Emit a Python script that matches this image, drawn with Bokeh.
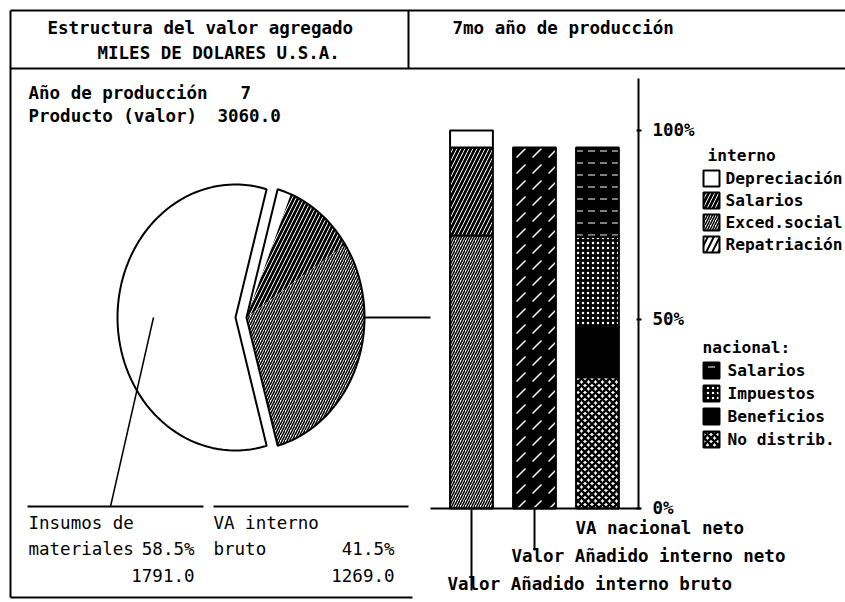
import numpy as np
from bokeh.plotting import figure
from bokeh.models import Range1d
from bokeh.core.properties import value
from bokeh.embed import file_html
from bokeh.resources import INLINE

# ---------------- data ----------------
title_lines = ["Estructura del valor agregado", "MILES DE DOLARES U.S.A."]
right_title = "7mo año de producción"
year = 7
product_value = 3060.0

pie_labels = ["Insumos de materiales", "VA interno bruto"]
pie_pct = [58.5, 41.5]
pie_values = [1791.0, 1269.0]

bar_names = ["Valor Añadido interno bruto", "Valor Añadido interno neto", "VA nacional neto"]
bruto_labels = ["Exced.social", "Salarios", "Depreciación"]      # bottom -> top
bruto_pct = [72.2, 23.3, 4.5]
neto_labels = ["Neto"]
neto_pct = [95.5]
nacional_labels = ["No distrib.", "Beneficios", "Impuestos", "Salarios"]  # bottom -> top
nacional_pct = [34.7, 13.2, 24.0, 23.6]

axis_ticks = [0, 50, 100]
axis_tick_labels = ["0%", "50%", "100%"]

legend_int_title = "interno"
legend_int = ["Depreciación", "Salarios", "Exced.social", "Repatriación"]
legend_nac_title = "nacional:"
legend_nac = ["Salarios", "Impuestos", "Beneficios", "No distrib."]

# ---------------- styles ----------------
STY = {
    "Depreciación": dict(fill_color="white"),
    "Salarios_i": dict(fill_color="black", hatch_pattern="/", hatch_color="white", hatch_scale=8, hatch_weight=1),
    "Exced.social": dict(fill_color="white", hatch_pattern="/", hatch_color="black", hatch_scale=5, hatch_weight=1.5),
    "Repatriación": dict(fill_color="white", hatch_pattern="/", hatch_color="black", hatch_scale=12, hatch_weight=2),
    "Neto": dict(fill_color="black", hatch_pattern=",", hatch_color="white", hatch_scale=16, hatch_weight=1.5),
    "Salarios_n": dict(fill_color="black", hatch_pattern='"', hatch_color="white", hatch_scale=12, hatch_weight=1),
    "Impuestos": dict(fill_color="black", hatch_pattern=".", hatch_color="white", hatch_scale=5),
    "Beneficios": dict(fill_color="black"),
    "No distrib.": dict(fill_color="white", hatch_pattern="x", hatch_color="black", hatch_scale=7, hatch_weight=2.5),
}

W, H = 845, 602
p = figure(width=W, height=H, x_range=Range1d(0, W), y_range=Range1d(H, 0),
           output_backend="svg", toolbar_location=None, min_border=0,
           x_axis_location=None, y_axis_location=None, outline_line_color=None)
p.grid.visible = False
p.background_fill_color = "white"
p.extra_y_ranges = {"pct": Range1d(-24.868, 134.391)}
p.extra_x_ranges = {"bars": Range1d(-7.476, 5.937)}

FONT = "DejaVu Sans Mono"
FS = 17.5
FS_LEG = 16.2


def txt(x, y, s, size=FS, bold=True, align="left", **kw):
    p.text(x=[x], y=[y], text=[s], text_font=value(FONT), text_font_size=f"{size}px",
           text_font_style="bold" if bold else "normal", text_align=align,
           text_baseline="middle", text_color="black", **kw)


def seg(x0, y0, x1, y1, w=2):
    p.segment(x0=[x0], y0=[y0], x1=[x1], y1=[y1], line_color="black", line_width=w)


# ---------------- frame ----------------
seg(10, 10, 845, 10, 2)
seg(10, 68, 845, 68, 2)
seg(10, 10, 10, 597, 2)
seg(10, 597, 412, 597, 2)
seg(408, 10, 408, 68, 2)

txt(47, 27, title_lines[0])
txt(97, 52, title_lines[1])
txt(452, 27, right_title)

txt(28, 92, "Año de producción")
txt(240, 92, f"{year}")
txt(28, 115, "Producto (valor)")
txt(217, 115, f"{product_value:.1f}")

# ---------------- pie (elliptical, exploded) ----------------
rx, ry, cy = 118, 133, 317
half = pie_pct[1] / 100 * 360 / 2
big_c, small_c = 235, 246


def wedge_pts(cx, a0, a1, n=80):
    t = np.radians(np.linspace(a0, a1, n))
    xs = np.concatenate([[cx], cx + rx * np.cos(t), [cx]])
    ys = np.concatenate([[cy], cy - ry * np.sin(t), [cy]])
    return xs, ys


xs, ys = wedge_pts(big_c, half, 360 - half)
p.patch(xs, ys, fill_color="white", line_color="black", line_width=2)

# sub-slices of VA interno bruto, from the top edge clockwise
span = 2 * half
a = half
sub = list(zip(bruto_labels, bruto_pct))[::-1]  # Depreciación, Salarios, Exced
for lab, v in sub:
    a_next = a - v / 100 * span
    xs, ys = wedge_pts(small_c, a_next, a)
    key = "Salarios_i" if lab == "Salarios" else lab
    p.patch(xs, ys, line_color=None, **STY[key])
    a = a_next
xs, ys = wedge_pts(small_c, -half, half)
p.patch(xs, ys, fill_color=None, line_color="black", line_width=2)

# leaders
seg(small_c + rx, cy, 430, cy, 2)
seg(153, 317, 110, 506, 1.5)
seg(27, 506, 203, 506, 2)
seg(213, 506, 408, 506, 2)

txt(28, 522, "Insumos de", bold=False)
txt(28, 548, "materiales", bold=False)
txt(194, 548, f"{pie_pct[0]}%", bold=False, align="right")
txt(194, 575, f"{pie_values[0]:.1f}", bold=False, align="right")
txt(213, 522, "VA interno", bold=False)
txt(213, 548, "bruto", bold=False)
txt(394, 548, f"{pie_pct[1]}%", bold=False, align="right")
txt(394, 575, f"{pie_values[1]:.1f}", bold=False, align="right")

# ---------------- stacked bars ----------------
stacks = [
    (bruto_labels, bruto_pct, ["Exced.social", "Salarios_i", "Depreciación"]),
    (neto_labels, neto_pct, ["Neto"]),
    (nacional_labels, nacional_pct, ["No distrib.", "Beneficios", "Impuestos", "Salarios_n"]),
]
for i, (labs, vals, keys) in enumerate(stacks):
    tops = np.cumsum(vals)
    bots = tops - np.array(vals)
    for b, t, k in zip(bots, tops, keys):
        p.vbar(x=[i], bottom=[b], top=[t], width=0.68, x_range_name="bars", y_range_name="pct",
               line_color="black", line_width=2, **STY[k])

# axis
seg(638, 78, 638, 508, 2)
seg(430, 508, 640, 508, 2)
p.segment(x0=[636] * 3, x1=[641] * 3, y0=axis_ticks, y1=axis_ticks, y_range_name="pct",
          line_color="black", line_width=2)
p.text(x=[652] * 3, y=axis_ticks, text=axis_tick_labels, y_range_name="pct",
       text_font=value(FONT), text_font_size=f"{FS}px", text_font_style="bold",
       text_baseline="middle", text_color="black")

# bar leaders and labels
seg(471, 508, 471, 590, 2)
seg(534, 508, 534, 550, 2)
txt(575, 527, bar_names[2])
txt(511, 555, bar_names[1])
txt(447, 583, bar_names[0])

# ---------------- legends ----------------
txt(707, 155, legend_int_title, FS_LEG)
int_keys = ["Depreciación", "Salarios_i", "Exced.social", "Repatriación"]
for j, (lab, k) in enumerate(zip(legend_int, int_keys)):
    yy = 178 + j * 22
    p.rect(x=[711], y=[yy], width=16, height=16, line_color="black", line_width=2, **STY[k])
    txt(725, yy, lab, FS_LEG)

txt(702, 347, legend_nac_title, FS_LEG)
nac_keys = ["Salarios_n", "Impuestos", "Beneficios", "No distrib."]
for j, (lab, k) in enumerate(zip(legend_nac, nac_keys)):
    yy = 370 + j * 23
    p.rect(x=[711], y=[yy], width=16, height=16, line_color="black", line_width=2, **STY[k])
    txt(727, yy, lab, FS_LEG)

open("out.html", "w").write(file_html(p, INLINE))
